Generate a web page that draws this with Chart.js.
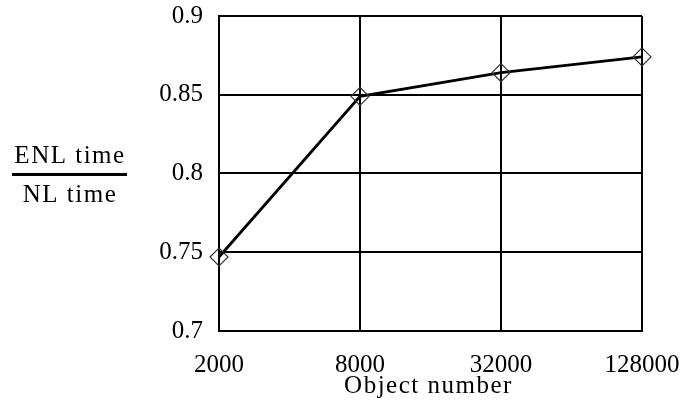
<!DOCTYPE html>
<html>
<head>
<meta charset="utf-8">
<script src="https://cdn.jsdelivr.net/npm/chart.js@4.4.0/dist/chart.umd.min.js"></script>
<style>
  html, body { margin: 0; padding: 0; background: #fff; }
  #wrap { width: 680px; height: 407px; }
</style>
</head>
<body>
<div id="wrap"><canvas id="chart" width="680" height="407"></canvas></div>
<script>
// data
var objectNumbers = ["2000", "8000", "32000", "128000"];
var timeRatio = [0.747, 0.849, 0.864, 0.874];
var yTicks = [0.7, 0.75, 0.8, 0.85, 0.9];

var serif = "'Liberation Serif', 'DejaVu Serif', serif";

// axis titles: the "ENL time / NL time" fraction and "Object number"
var axisTitles = {
    id: "axisTitles",
    afterDraw: function (chart) {
        var ctx = chart.ctx;
        var area = chart.chartArea;
        ctx.save();
        ctx.fillStyle = "#000";
        ctx.font = "25px " + serif;
        ctx.letterSpacing = "1.5px";
        ctx.textAlign = "center";
        ctx.textBaseline = "alphabetic";
        ctx.fillText("ENL time", 70, 163);
        ctx.fillText("NL time", 70, 202);
        ctx.fillRect(12, 173, 115, 3);
        ctx.fillText("Object number", (area.left + area.right) / 2 - 2, 393);
        ctx.restore();
    }
};

new Chart(document.getElementById("chart").getContext("2d"), {
    type: "line",
    data: {
        labels: objectNumbers,
        datasets: [{
            data: timeRatio,
            borderColor: "#000",
            borderWidth: 2.8,
            pointStyle: "rectRot",
            pointRadius: 9,
            pointBorderWidth: 1.2,
            pointBorderColor: "#333",
            pointBackgroundColor: "rgba(0,0,0,0)",
            tension: 0,
            fill: false,
            clip: false
        }]
    },
    options: {
        responsive: false,
        animation: false,
        devicePixelRatio: 1,
        layout: { padding: { top: 16, right: 38, left: 0, bottom: 0 } },
        plugins: { legend: { display: false }, tooltip: { enabled: false } },
        scales: {
            x: {
                type: "category",
                offset: false,
                grid: { color: "#000", lineWidth: 2, drawTicks: false, offset: false },
                border: { color: "#000", width: 2 },
                ticks: { color: "#000", font: { family: serif, size: 25 }, padding: 19, maxRotation: 0, autoSkip: false },
                afterFit: function (scale) {
                    scale.height = 76;
                    scale.paddingLeft = 0;
                    scale.paddingRight = 0;
                }
            },
            y: {
                min: 0.7,
                max: 0.9,
                afterBuildTicks: function (scale) {
                    scale.ticks = yTicks.map(function (v) { return { value: v }; });
                },
                grid: { color: "#000", lineWidth: 2, drawTicks: false },
                border: { color: "#000", width: 2 },
                ticks: {
                    color: "#000",
                    font: { family: serif, size: 25 },
                    padding: 16,
                    callback: function (v) { return String(+Number(v).toFixed(2)); }
                },
                afterFit: function (scale) {
                    scale.width = 219;
                    scale.paddingTop = 0;
                    scale.paddingBottom = 0;
                }
            }
        }
    },
    plugins: [axisTitles]
});
</script>
</body>
</html>
